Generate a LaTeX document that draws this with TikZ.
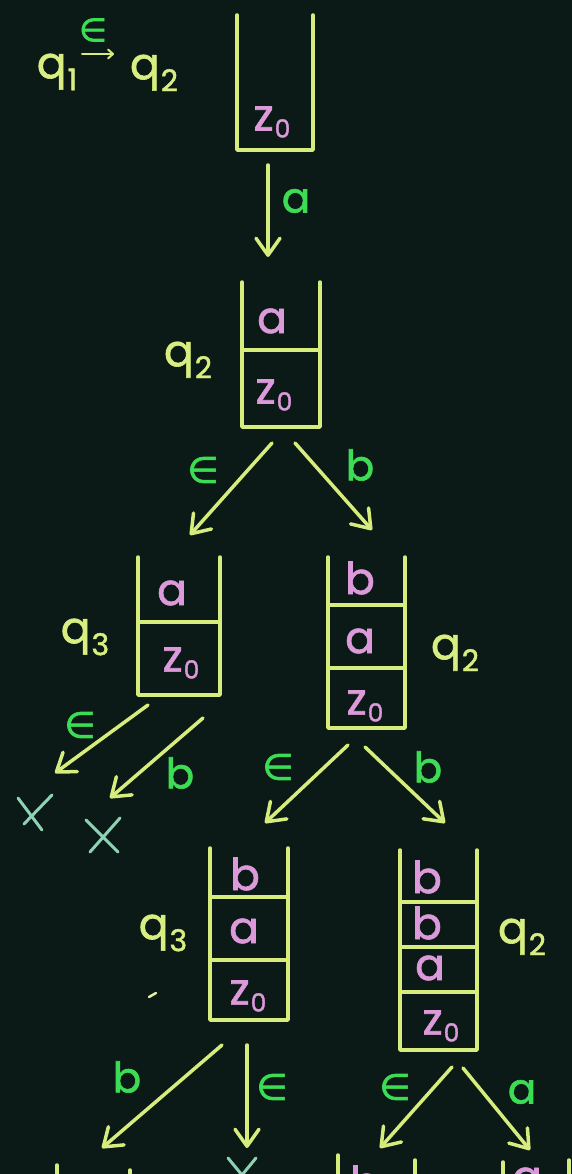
\documentclass[tikz,border=0pt]{standalone}
\usepackage{fontspec}
\setmainfont{Poppins}
\newfontfamily\hw{Poppins}[FakeBold=1.4]
\newfontfamily\djv{DejaVu Sans}[FakeBold=1.8]
\usetikzlibrary{arrows.meta,fit}
\definecolor{bg}{HTML}{0B1A16}
\definecolor{ln}{HTML}{D6EC7C}
\definecolor{pk}{HTML}{DC9ADB}
\definecolor{gr}{HTML}{3DDC55}
\definecolor{ql}{HTML}{D8EE80}
\definecolor{xc}{HTML}{8ED1B4}
\newcommand\qsub[1]{q\kern1pt\raisebox{-12pt}{\fontsize{30}{30}\selectfont #1}}
\newcommand\zo{z\kern1pt\raisebox{-7pt}{\fontsize{25}{25}\selectfont 0}}
\newcommand\eps{{\djv ∈}}
\newcommand\stk[5]{%
  \coordinate (#1-nw) at (#2,#4);
  \coordinate (#1-se) at (#3,#5);
  \node[fit=(#1-nw)(#1-se), inner sep=0pt, outer sep=0pt] (#1) {};
  \draw[stkl] (#1.north west) -- (#1.south west) -- (#1.south east) -- (#1.north east);
}
\begin{document}
\begin{tikzpicture}[x=1pt,y=-1pt,
  stkl/.style={draw=ln, line width=3.5pt, line join=round, line cap=round},
  arr/.style={draw=ln, line width=3.5pt, line cap=round,
    -{Straight Barb[length=17pt,width=24pt,line width=3.5pt,round]}},
  thinarr/.style={draw=ln, line width=2pt, line cap=round,
    -{Straight Barb[length=5pt,width=9pt,line width=2pt,round]}},
  pk/.style={text=pk, font=\hw\fontsize{44}{44}\selectfont, inner sep=0pt},
  gl/.style={text=gr, font=\hw\fontsize{42}{42}\selectfont, inner sep=0pt},
  ge/.style={text=gr, font=\fontsize{36}{36}\selectfont, inner sep=0pt},
  ql/.style={text=ql, font=\hw\fontsize{44}{44}\selectfont, inner sep=0pt},
  xm/.style={draw=xc, line width=3pt, line cap=round}]
\fill[bg] (0,0) rectangle (572,1174);
\useasboundingbox (0,0) rectangle (572,1174);
\clip (0,0) rectangle (572,1174);

% top: q1 -e-> q2
\node[ql] (q1) at (57,72) {\qsub{1}};
\node[ql] (q2top) at (154,73) {\qsub{2}};
\coordinate (ta1) at (82,54);
\coordinate (ta2) at (114,54);
\draw[thinarr] (ta1) -- (ta2);
\node[ge, font=\fontsize{32}{32}\selectfont] (te) at (93,30) {\eps};

% stack 1
\stk{s1}{237}{313}{15}{150}
\node[pk] (s1z) at (272,122) {\zo};

\coordinate (a1s) at (268,165);
\coordinate (a1e) at (268,257);
\draw[arr] (a1s) -- (a1e);
\node[gl] (l1) at (296,201) {a};

% stack 2
\stk{s2}{242}{320}{282}{427}
\draw[stkl] (242,350) -- (320,350);
\node[pk] (s2a) at (272,321) {a};
\node[pk] (s2z) at (274,395) {\zo};
\node[ql] (q2b) at (188,360) {\qsub{2}};

\coordinate (a2s) at (272,443);
\coordinate (a2e) at (190,535);
\draw[arr] (a2s) -- (a2e);
\node[ge] (l2) at (203,470) {\eps};
\coordinate (a3s) at (295,443);
\coordinate (a3e) at (372,530);
\draw[arr] (a3s) -- (a3e);
\node[gl] (l3) at (360,465) {b};

% stack 3
\stk{s3}{138}{220}{557}{695}
\draw[stkl] (138,622) -- (220,622);
\node[pk] (s3a) at (172,593) {a};
\node[pk] (s3z) at (181,663) {\zo};
\node[ql] (q3a) at (85,637) {\qsub{3}};

\coordinate (a4s) at (148,705);
\coordinate (a4e) at (55,773);
\draw[arr] (a4s) -- (a4e);
\node[ge] (l4) at (80,725) {\eps};
\coordinate (a5s) at (203,718);
\coordinate (a5e) at (110,798);
\draw[arr] (a5s) -- (a5e);
\node[gl] (l5) at (180,773) {b};

% rejections
\draw[xm] (18,798) -- (42,830);
\draw[xm] (52,795) -- (24,824);
\draw[xm] (86,820) -- (118,852);
\draw[xm] (120,818) -- (90,852);

% stack 4
\stk{s4}{328}{405}{557}{728}
\draw[stkl] (328,605) -- (405,605);
\draw[stkl] (328,668) -- (405,668);
\node[pk] (s4b) at (360,578) {b};
\node[pk] (s4a) at (360,641) {a};
\node[pk] (s4z) at (365,706) {\zo};
\node[ql] (q2c) at (455,653) {\qsub{2}};

\coordinate (a6s) at (348,745);
\coordinate (a6e) at (265,823);
\draw[arr] (a6s) -- (a6e);
\node[ge] (l6) at (278,767) {\eps};
\coordinate (a7s) at (365,747);
\coordinate (a7e) at (445,823);
\draw[arr] (a7s) -- (a7e);
\node[gl] (l7) at (428,767) {b};

% stack 5
\stk{s5}{210}{288}{848}{1020}
\draw[stkl] (210,897) -- (288,897);
\draw[stkl] (210,960) -- (288,960);
\node[pk] (s5b) at (245,874) {b};
\node[pk] (s5a) at (244,931) {a};
\node[pk] (s5z) at (248,996) {\zo};
\node[ql] (q3b) at (163,933) {\qsub{3}};
\draw[draw=ln!70!white, line width=2.5pt, line cap=round] (149,997) -- (156,993);

\coordinate (a8s) at (222,1045);
\coordinate (a8e) at (102,1148);
\draw[arr] (a8s) -- (a8e);
\node[gl] (l8) at (127,1077) {b};
\coordinate (a9s) at (247,1045);
\coordinate (a9e) at (247,1148);
\draw[arr] (a9s) -- (a9e);
\node[ge] (l9) at (272,1087) {\eps};

% stack 6
\stk{s6}{400}{477}{850}{1050}
\draw[stkl] (400,902) -- (477,902);
\draw[stkl] (400,947) -- (477,947);
\draw[stkl] (400,992) -- (477,992);
\node[pk] (s6b1) at (427,877) {b};
\node[pk] (s6b2) at (427,923) {b};
\node[pk] (s6a) at (430,968) {a};
\node[pk] (s6z) at (441,1026) {\zo};
\node[ql] (q2d) at (522,937) {\qsub{2}};

\coordinate (a10s) at (452,1067);
\coordinate (a10e) at (380,1148);
\draw[arr] (a10s) -- (a10e);
\node[ge] (l10) at (395,1087) {\eps};
\coordinate (a11s) at (463,1068);
\coordinate (a11e) at (530,1150);
\draw[arr] (a11s) -- (a11e);
\node[gl] (l11) at (522,1092) {a};

% partially visible continuation at the bottom edge
\draw[stkl] (57,1165) -- (57,1190);
\draw[stkl] (130,1170) -- (130,1190);
\draw[xm] (228,1158) -- (256,1192);
\draw[xm] (256,1158) -- (228,1192);
\draw[stkl] (338,1155) -- (338,1190);
\draw[stkl] (415,1160) -- (415,1190);
\node[pk] (pb) at (365,1182) {b};
\draw[stkl] (503,1162) -- (503,1190);
\draw[stkl] (569,1160) -- (569,1190);
\node[pk] (pa) at (527,1180) {a};
\end{tikzpicture}
\end{document}
